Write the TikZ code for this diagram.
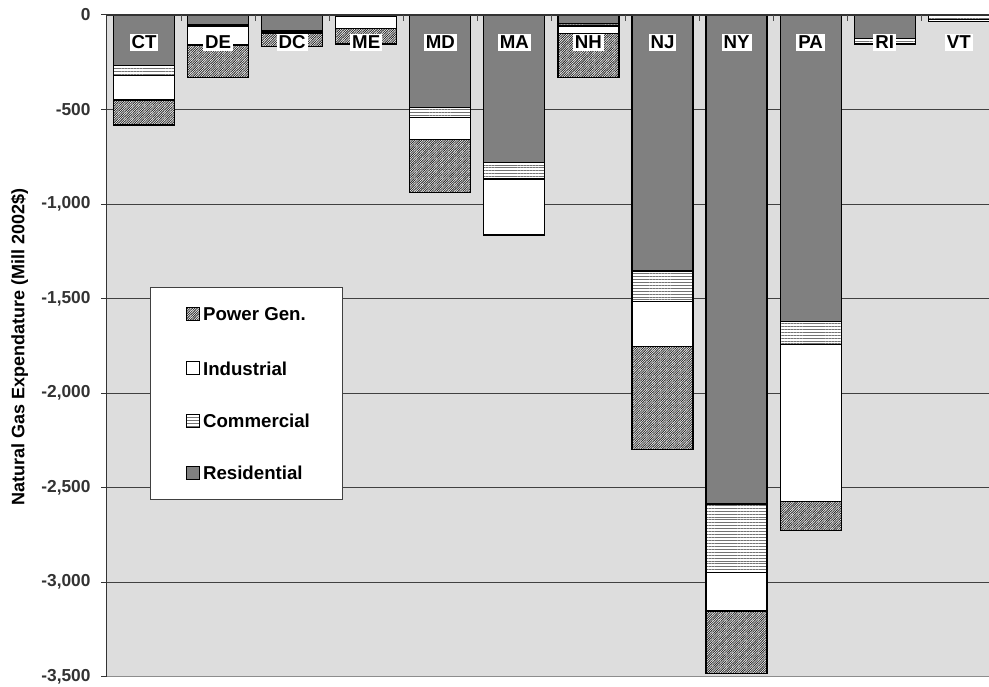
\documentclass[tikz,border=0pt]{standalone}
\usepackage{fontspec}
\setmainfont{Liberation Sans}
\usetikzlibrary{patterns.meta}
\definecolor{plotgray}{RGB}{221,221,221}
\definecolor{resgray}{RGB}{128,128,128}
\tikzset{
  resid/.style={fill=resgray},
  comm/.style={preaction={fill=white}, pattern={Lines[angle=0,distance=2.2pt,line width=.45pt]}, pattern color=black!55},
  indus/.style={fill=white},
  powgen/.style={preaction={fill=white}, pattern={Lines[angle=45,distance=1.25pt,line width=.6pt]}, pattern color=black!85},
  catlabel/.style={fill=white, inner sep=1.5pt, font=\fontsize{14}{16}\selectfont\bfseries},
  ticklabel/.style={anchor=east, inner sep=0pt, font=\fontsize{13}{15}\selectfont\bfseries},
  legkey/.style={draw, line width=.7pt, minimum size=9.75pt, inner sep=0pt},
  legtext/.style={anchor=west, inner sep=2.5pt, font=\fontsize{14}{16}\selectfont\bfseries}
}
\begin{document}
\begin{tikzpicture}[x=0.75pt, y=0.14179pt]
      \clip (-107, 79.3) rectangle (882, -3554.6);
      \fill[white] (-107, 79.3) rectangle (882, -3554.6);
      \fill[plotgray] (0,0) rectangle (889,-3500);

      % grid and value axis
      \foreach \y in {-500, -1000, ..., -3000}
      \draw[black!75, line width=.75pt] (0,\y) -- (889,\y);
      \draw[black!45, line width=.75pt] (0,-3500) -- (889,-3500);
      \draw[black!80, line width=.75pt] (0,0) -- (0,-3500);
      \foreach \y/\ytext [count=\n] in {0/0, -500/-500, -1000/{-1,000}, -1500/{-1,500}, -2000/{-2,000}, -2500/{-2,500}, -3000/{-3,000}, -3500/{-3,500}}
      \draw[black!80, line width=.75pt] (0,\y) -- (-6,\y) node[ticklabel, xshift=-7.5pt] (ytick\n) {\ytext};

      \node[rotate=90, font=\fontsize{13.5}{16}\selectfont\bfseries] (ytitle) at (-87.5,-1755) {Natural Gas Expendature (Mill 2002\$)};

      % stacked bars: residential, commercial, industrial, power gen.
      \foreach \st/\r/\c/\i/\p [count=\k from 0] in {CT/268/53/129/132, DE/53/9/97/171, DC/83/7/7/71,
          ME/3/3/64/83, MD/490/53/115/280, MA/781/87/292/5, NH/44/14/39/234, NJ/1354/163/238/545,
          NY/2587/362/204/329, PA/1622/123/830/151, RI/123/27/3/3, VT/2/20/12/2}
      {
        \pgfmathsetmacro\xl{74.07*\k+6.5}
        \pgfmathsetmacro\xr{\xl+61}
        \pgfmathsetmacro\ya{-\r}
        \pgfmathsetmacro\yb{\ya-\c}
        \pgfmathsetmacro\yc{\yb-\i}
        \pgfmathsetmacro\yd{\yc-\p}
        \draw[powgen, line width=.9pt] (\xl,\yc) rectangle (\xr,\yd);
        \draw[indus, line width=.9pt] (\xl,\yb) rectangle (\xr,\yc);
        \draw[comm, line width=.9pt] (\xl,\ya) rectangle (\xr,\yb);
        \draw[resid, line width=.9pt] (\xl,0) rectangle (\xr,\ya);
        \node[catlabel] (lbl\st) at ({\xl+30.5},-144) {\st};
      }

      % category axis at zero
      \draw[black!80, line width=.9pt] (0,0) -- (889,0);
      \foreach \k in {1, ..., 11}
      \draw[black!70, line width=.75pt] ({74.07*\k},0) -- ({74.07*\k},-30);

      % legend
      \node[draw=black!75, line width=.75pt, fill=white, minimum width=144pt, minimum height=159.6pt, inner sep=0pt] (legend) at (139.7,-2002.5) {};
      \foreach \sty/\name/\y [count=\n] in {powgen/Power Gen./-1583, indus/Industrial/-1869, comm/Commercial/-2146, resid/Residential/-2424}
      {
        \node[legkey, \sty] (key\n) at (85.5,\y) {};
        \node[legtext] (keytext\n) at (key\n.east) {\name};
      }
\end{tikzpicture}
\end{document}
